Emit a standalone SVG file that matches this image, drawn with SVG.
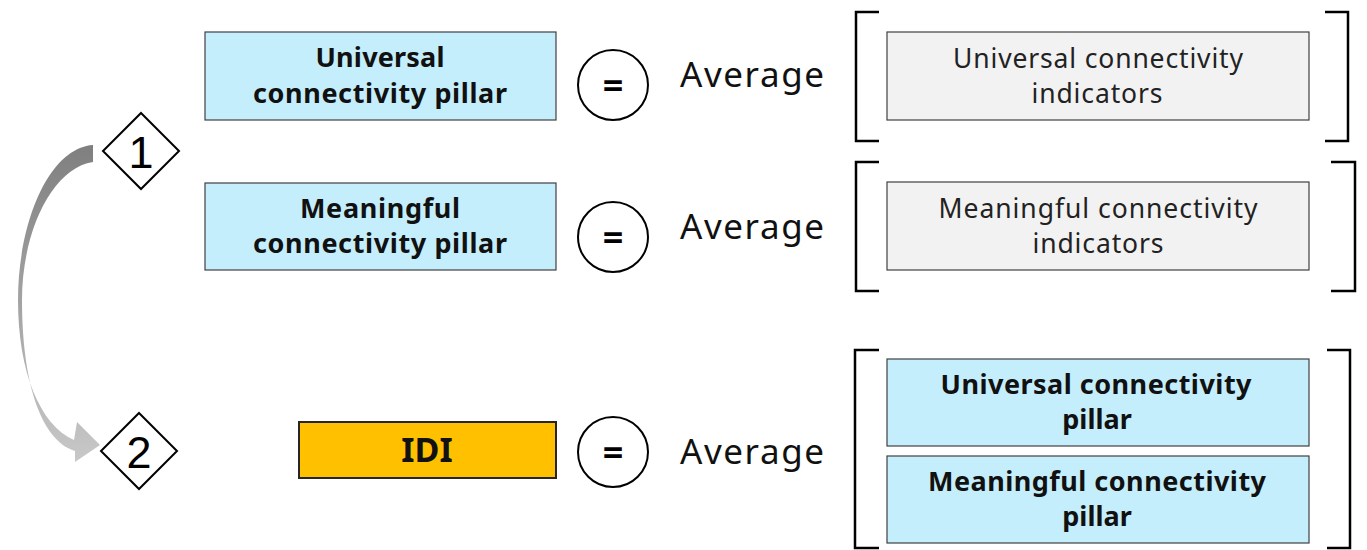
<svg xmlns="http://www.w3.org/2000/svg" width="1367" height="550" viewBox="0 0 1367 550">
<defs>
<linearGradient id="arrowGrad" x1="0" y1="0" x2="0" y2="1">
<stop offset="0" stop-color="#7f7f7f"/>
<stop offset="1" stop-color="#c8c8c8"/>
</linearGradient>
<style>
.pillar{fill:#c5eefc;stroke:#404040;stroke-width:1.2}
.ind{fill:#f2f2f2;stroke:#404040;stroke-width:1.2}
.idi{fill:#ffc000;stroke:#262626;stroke-width:2}
.eq{fill:#fff;stroke:#000;stroke-width:2}
.br{fill:none;stroke:#000;stroke-width:2.5}
.dia{fill:#fff;stroke:#000;stroke-width:2}
.bold{font-family:"Noto Sans",Lato,sans-serif;font-weight:bold;font-size:27px;fill:#111;text-anchor:middle}
.reg{font-family:"Noto Sans",Lato,sans-serif;font-size:26.5px;fill:#222;text-anchor:middle}
.avg{font-family:"Noto Sans",Lato,sans-serif;font-size:35px;fill:#111}
.num{font-family:"Liberation Sans",Arial,sans-serif;font-size:45px;fill:#000;text-anchor:middle}
.eqt{font-family:"Noto Sans",Lato,sans-serif;font-weight:bold;font-size:36px;fill:#000;text-anchor:middle}
</style>
</defs>

<g id="connectors">
<path d="M93,145 C48,148 18,225 18,300 C18,372 40,425 74,440 L77,422 L100,445 L75,462 L75,451 C40,440 22,380 22,300 C22,232 52,168 93,162 Z" fill="url(#arrowGrad)"/>
</g>

<g id="step1">
<polygon class="dia" points="141,113 179,151 141,189 103,151"/>
<text class="num" x="141" y="168">1</text>
</g>
<g id="step2">
<polygon class="dia" points="139,413 177,451 139,489 101,451"/>
<text class="num" x="139" y="468">2</text>
</g>

<g id="universal-pillar">
<rect class="pillar" x="205" y="32" width="351" height="88"/>
<text class="bold" x="380" y="67" textLength="129" lengthAdjust="spacing">Universal</text>
<text class="bold" x="380" y="103" textLength="254" lengthAdjust="spacing">connectivity pillar</text>
</g>
<g id="eq1">
<circle class="eq" cx="613" cy="85" r="35"/>
<text class="eqt" x="613" y="98">=</text>
</g>
<text class="avg" x="680" y="87" textLength="144" lengthAdjust="spacing">Average</text>
<g id="bracket1">
<path class="br" d="M879,12 L856,12 L856,141 L879,141"/>
<path class="br" d="M1325,12 L1348,12 L1348,141 L1325,141"/>
</g>
<g id="universal-indicators">
<rect class="ind" x="887" y="32" width="422" height="88"/>
<text class="reg" x="1098" y="68" textLength="290" lengthAdjust="spacing">Universal connectivity</text>
<text class="reg" x="1097" y="103" textLength="131" lengthAdjust="spacing">indicators</text>
</g>

<g id="meaningful-pillar">
<rect class="pillar" x="205" y="183" width="351" height="87"/>
<text class="bold" x="380" y="218" textLength="160" lengthAdjust="spacing">Meaningful</text>
<text class="bold" x="380" y="253" textLength="254" lengthAdjust="spacing">connectivity pillar</text>
</g>
<g id="eq2">
<circle class="eq" cx="613" cy="237" r="35"/>
<text class="eqt" x="613" y="250">=</text>
</g>
<text class="avg" x="680" y="239" textLength="144" lengthAdjust="spacing">Average</text>
<g id="bracket2">
<path class="br" d="M879,162 L856,162 L856,291 L879,291"/>
<path class="br" d="M1331,162 L1355,162 L1355,291 L1331,291"/>
</g>
<g id="meaningful-indicators">
<rect class="ind" x="887" y="182" width="422" height="88"/>
<text class="reg" x="1098" y="218" textLength="319" lengthAdjust="spacing">Meaningful connectivity</text>
<text class="reg" x="1098" y="253" textLength="131" lengthAdjust="spacing">indicators</text>
</g>

<g id="idi">
<rect class="idi" x="299" y="422" width="257" height="56"/>
<text class="bold" x="427" y="462" style="font-size:34px">IDI</text>
</g>
<g id="eq3">
<circle class="eq" cx="613" cy="452" r="35"/>
<text class="eqt" x="613" y="465">=</text>
</g>
<text class="avg" x="680" y="464" textLength="144" lengthAdjust="spacing">Average</text>
<g id="bracket3">
<path class="br" d="M879,350 L855,350 L855,548 L879,548"/>
<path class="br" d="M1327,350 L1350,350 L1350,548 L1327,548"/>
</g>
<g id="universal-pillar-2">
<rect class="pillar" x="887" y="359" width="422" height="87"/>
<text class="bold" x="1096" y="394" textLength="311" lengthAdjust="spacing">Universal connectivity</text>
<text class="bold" x="1097" y="429">pillar</text>
</g>
<g id="meaningful-pillar-2">
<rect class="pillar" x="887" y="456" width="422" height="87"/>
<text class="bold" x="1097" y="491" textLength="338" lengthAdjust="spacing">Meaningful connectivity</text>
<text class="bold" x="1097" y="526">pillar</text>
</g>
</svg>
